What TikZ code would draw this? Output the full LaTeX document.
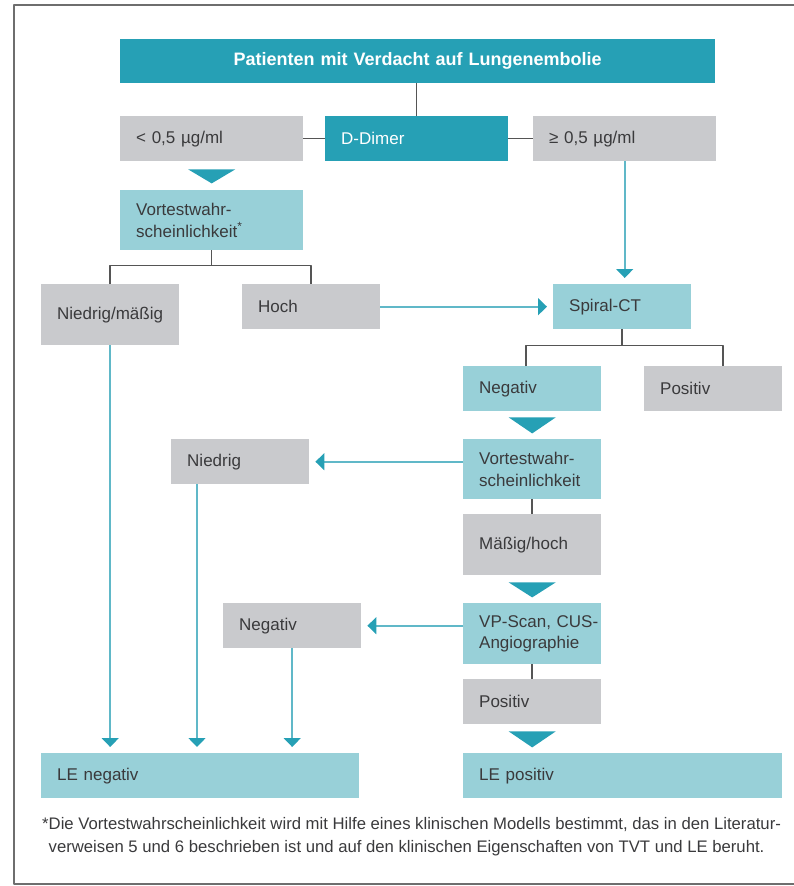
\documentclass[tikz,border=0pt]{standalone}
\usepackage{fontspec}
\setmainfont{Liberation Sans}
\usepackage{xcolor}
\usepackage{tikz}
\usetikzlibrary{arrows.meta,positioning}

\definecolor{dteal}{RGB}{38,160,181}
\definecolor{lteal}{RGB}{152,208,216}
\definecolor{boxgray}{RGB}{201,202,205}
\definecolor{ateal}{RGB}{96,184,200}
\definecolor{linegray}{RGB}{85,85,85}
\definecolor{txtgray}{RGB}{58,58,60}
\definecolor{framegray}{RGB}{110,110,110}

\tikzset{
  box/.style={rectangle, anchor=north west, inner xsep=16pt, inner ysep=0pt,
    align=left, text=txtgray, font=\fontsize{17}{21.5}\selectfont},
  dbox/.style={box, fill=dteal, text=white},
  lbox/.style={box, fill=lteal},
  gbox/.style={box, fill=boxgray},
  widebox/.style={text width=151pt},
  narrowbox/.style={text width=106pt},
  onerow/.style={minimum height=45pt},
  tworow/.style={minimum height=61pt},
  link/.style={draw=linegray, line width=1.5pt},
  arr/.style={draw=ateal, line width=1.6pt,
    -{Triangle[length=9pt,width=17pt,color=dteal]}, shorten >=6pt},
}

\begin{document}
\begin{tikzpicture}[x=1pt, y=-1pt, line join=round]

    \useasboundingbox (0,0) rectangle (794,886);
    \draw[framegray, line width=1.5pt] (794,5) -- (14,5) -- (14,884) -- (794,884);

    % first test
    \node[dbox, text width=563pt, minimum height=44pt, align=center,
          font=\fontsize{18}{22}\selectfont\bfseries] (top) at (120,39)
          {Patienten mit Verdacht auf Lungenembolie};
    \node[gbox, widebox, onerow] (lt) at (120,116) {< 0,5 µg/ml};
    \node[dbox, widebox, onerow] (dd) at (325,116) {D-Dimer};
    \node[gbox, widebox, onerow] (ge) at (533,116) {≥ 0,5 µg/ml};

    % left branch
    \node[lbox, widebox, minimum height=60pt] (vw1) at (120,190)
          {Vortestwahr-\\scheinlichkeit\textsuperscript{*}};
    \node[gbox, narrowbox, tworow] (nm) at (41,284) {Niedrig/mäßig};
    \node[gbox, narrowbox, onerow] (hoch) at (242,284) {Hoch};

    % right branch
    \node[lbox, narrowbox, onerow] (ct) at (553,284) {Spiral-CT};
    \node[lbox, narrowbox, onerow] (neg1) at (463,366) {Negativ};
    \node[gbox, narrowbox, onerow] (pos1) at (644,366) {Positiv};
    \node[lbox, narrowbox, minimum height=60pt] (vw2) at (463,439)
          {Vortestwahr-\\scheinlichkeit};
    \node[gbox, narrowbox, onerow] (nied) at (171,439) {Niedrig};
    \node[gbox, narrowbox, tworow] (mh) at (463,514) {Mäßig/hoch};
    \node[lbox, narrowbox, tworow] (vp) at (463,603)
          {\makebox[106pt][l]{VP-Scan, CUS-}\\Angiographie};
    \node[gbox, narrowbox, onerow] (neg2) at (223,603) {Negativ};
    \node[gbox, narrowbox, onerow] (pos2) at (463,679) {Positiv};

    % results
    \node[lbox, text width=286pt, onerow] (leneg) at (41,753) {LE negativ};
    \node[lbox, text width=287pt, onerow] (lepos) at (463,753) {LE positiv};

    % footnote
    \node[anchor=west, align=left, inner sep=0pt, text=txtgray,
          font=\fontsize{16.7}{23}\selectfont] (foot) at (42,837)
          {*Die Vortestwahrscheinlichkeit wird mit Hilfe eines klinischen Modells bestimmt, das in den Literatur-\\
           \phantom{*}verweisen 5 und 6 beschrieben ist und auf den klinischen Eigenschaften von TVT und LE beruht.};

    % connectors
    \draw[link] (dd.north) -- (dd.north |- top.south);
    \draw[link] (dd.west) -- (lt.east);
    \draw[link] (dd.east) -- (ge.west);
    \draw[arr] (ge.south) -- (ge.south |- ct.north);

    \coordinate (f1) at ([yshift=-15pt]vw1.south);
    \draw[link] (vw1.south) -- (f1);
    \draw[link] (nm.north) |- (f1) -| (hoch.north);
    \draw[arr] (hoch.east) -- (ct.west);

    \coordinate (f2) at ([yshift=-16pt]ct.south);
    \draw[link] (ct.south) -- (f2);
    \draw[link] ([xshift=-6pt]neg1.north) |- (f2) -| ([xshift=10pt]pos1.north);

    \draw[arr] (vw2.west |- nied.east) -- (nied.east);
    \draw[link] (vw2.south) -- (mh.north);
    \draw[arr] (vp.west |- neg2.east) -- (neg2.east);
    \draw[link] (vp.south) -- (pos2.north);

    \coordinate (n2) at ([xshift=26pt]nied.south west);
    \draw[arr] (nm.south) -- (nm.south |- leneg.north);
    \draw[arr] (n2) -- (n2 |- leneg.north);
    \draw[arr] (neg2.south) -- (neg2.south |- leneg.north);

    % big pointers
    \fill[dteal] ([xshift=-23.5pt,yshift=-8pt]lt.south) -- ++(47,0) -- ++(-23.5,14) -- cycle;
    \fill[dteal] ([xshift=-23.5pt,yshift=-6pt]neg1.south) -- ++(47,0) -- ++(-23.5,16) -- cycle;
    \fill[dteal] ([xshift=-23.5pt,yshift=-7pt]mh.south) -- ++(47,0) -- ++(-23.5,15) -- cycle;
    \fill[dteal] ([xshift=-23.5pt,yshift=-7pt]pos2.south) -- ++(47,0) -- ++(-23.5,16) -- cycle;

\end{tikzpicture}
\end{document}
